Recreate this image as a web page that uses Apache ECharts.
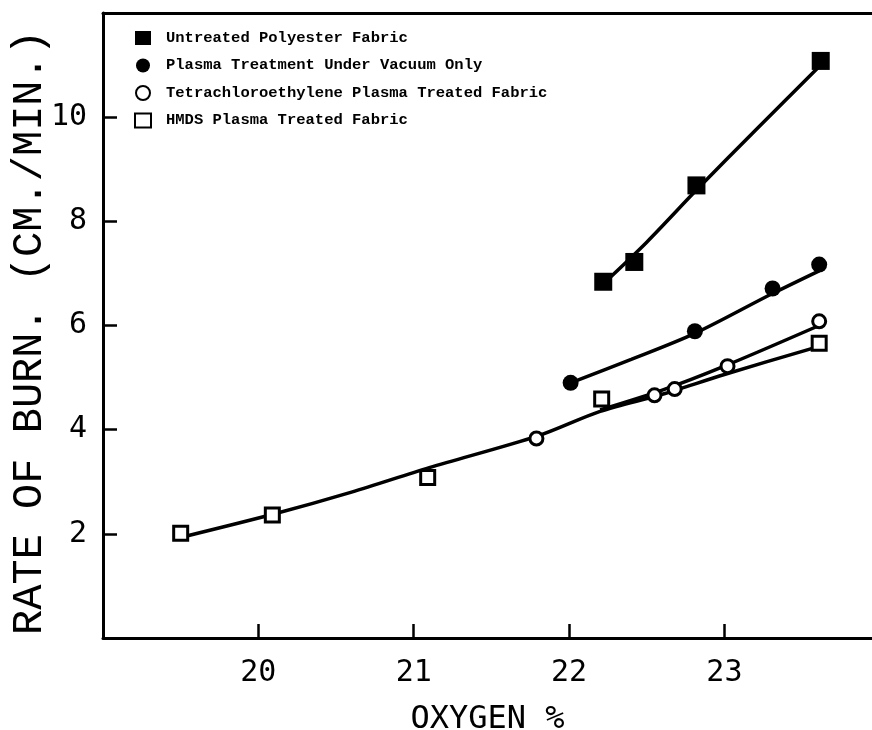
<!DOCTYPE html>
<html>
<head>
<meta charset="utf-8">
<script src="https://cdn.jsdelivr.net/npm/echarts@6/dist/echarts.min.js"></script>
<style>
  html, body { margin: 0; padding: 0; background: #fff; }
  #main { width: 872px; height: 730px; }
</style>
</head>
<body>
<div id="main"></div>
<script>
// measured points (oxygen %, rate of burn cm/min)
const untreatedX = [22.22, 22.42, 22.82, 23.62];
const untreatedY = [6.84, 7.22, 8.69, 11.08];
const vacuumX = [22.01, 22.81, 23.31, 23.61];
const vacuumY = [4.90, 5.89, 6.71, 7.17];
const tetraX = [21.79, 22.55, 22.68, 23.02, 23.61];
const tetraY = [3.83, 4.66, 4.78, 5.22, 6.08];
const hmdsX = [19.5, 20.09, 21.09, 22.21, 23.61];
const hmdsY = [2.01, 2.36, 3.08, 4.59, 5.66];

// hand-drawn fit curves
const untreatedFitX = [22.22, 22.5, 22.82, 23.2, 23.62];
const untreatedFitY = [6.8, 7.6, 8.6, 9.75, 11.0];
const vacuumFitX = [22.01, 22.4, 22.81, 23.3, 23.61];
const vacuumFitY = [4.9, 5.35, 5.85, 6.6, 7.05];
const tetraFitX = [22.2, 22.6, 23.0, 23.61];
const tetraFitY = [4.38, 4.76, 5.22, 6.0];
const hmdsFitX = [19.5, 20.1, 20.6, 21.1, 21.8, 22.2, 22.6, 23.0, 23.61];
const hmdsFitY = [1.93, 2.38, 2.8, 3.27, 3.88, 4.35, 4.68, 5.06, 5.6];

const xTicks = [20, 21, 22, 23];
const yTicks = [2, 4, 6, 8, 10];

const names = [
  "Untreated Polyester Fabric",
  "Plasma Treatment Under Vacuum Only",
  "Tetrachloroethylene Plasma Treated Fabric",
  "HMDS Plasma Treated Fabric"
];

function pairs(xs, ys) {
  return xs.map((x, i) => [x, ys[i]]);
}

function fitLine(xs, ys) {
  return {
    type: "line",
    data: pairs(xs, ys),
    showSymbol: false,
    smooth: 0.3,
    silent: true,
    lineStyle: { color: "#000", width: 3.5 },
    z: 2
  };
}

var chartDom = document.getElementById("main");
var myChart = echarts.init(chartDom);

var option = {
  animation: false,
  backgroundColor: "#fff",
  grid: { left: 103, right: 0, top: 13, bottom: 92, outerBoundsMode: "none", containLabel: false },
  legend: {
    data: names,
    orient: "vertical",
    left: 129,
    top: 25,
    itemWidth: 16,
    itemHeight: 14,
    itemGap: 11.5,
    textStyle: {
      fontFamily: "Liberation Mono",
      fontWeight: "bold",
      fontSize: 15.5,
      color: "#000",
      lineHeight: 14,
      padding: [0, 0, 0, 10]
    },
    selectedMode: false
  },
  xAxis: [
    {
      type: "value",
      min: 19,
      max: 23.95,
      interval: 1,
      name: "OXYGEN %",
      nameLocation: "middle",
      nameGap: 66,
      nameMoveOverlap: false,
      nameTextStyle: { fontFamily: "DejaVu Sans Mono", fontSize: 32, color: "#000" },
      axisLine: { onZero: false, lineStyle: { color: "#000", width: 3 } },
      axisTick: {
        inside: true,
        length: 14,
        customValues: xTicks,
        lineStyle: { color: "#000", width: 2.5 }
      },
      axisLabel: {
        margin: 20,
        customValues: xTicks,
        fontFamily: "DejaVu Sans Mono",
        fontSize: 30,
        color: "#000"
      },
      splitLine: { show: false }
    },
    {
      type: "value",
      position: "top",
      min: 19,
      max: 23.95,
      axisLine: { onZero: false, lineStyle: { color: "#000", width: 3 } },
      axisTick: { show: false },
      axisLabel: { show: false },
      splitLine: { show: false }
    }
  ],
  yAxis: {
    type: "value",
    min: 0,
    max: 12,
    interval: 2,
    name: "RATE OF BURN. (CM./MIN.)",
    nameLocation: "middle",
    nameGap: 52,
    nameMoveOverlap: false,
    nameTextStyle: {
      fontFamily: "Liberation Mono",
      fontSize: 42,
      color: "#000",
      padding: [0, 14, 0, 0]
    },
    axisLine: { onZero: false, lineStyle: { color: "#000", width: 3 } },
    axisTick: {
      inside: true,
      length: 14,
      customValues: yTicks,
      lineStyle: { color: "#000", width: 2.5 }
    },
    axisLabel: {
      margin: 16,
      customValues: yTicks,
      fontFamily: "DejaVu Sans Mono",
      fontSize: 30,
      color: "#000"
    },
    splitLine: { show: false }
  },
  series: [
    fitLine(untreatedFitX, untreatedFitY),
    fitLine(vacuumFitX, vacuumFitY),
    fitLine(tetraFitX, tetraFitY),
    fitLine(hmdsFitX, hmdsFitY),
    {
      name: names[0],
      type: "scatter",
      symbol: "rect",
      symbolSize: 18,
      data: pairs(untreatedX, untreatedY),
      itemStyle: { color: "#000", opacity: 1 },
      z: 3
    },
    {
      name: names[1],
      type: "scatter",
      symbol: "circle",
      symbolSize: 16,
      data: pairs(vacuumX, vacuumY),
      itemStyle: { color: "#000", opacity: 1 },
      z: 3
    },
    {
      name: names[2],
      type: "scatter",
      symbol: "circle",
      symbolSize: 13,
      data: pairs(tetraX, tetraY),
      itemStyle: { color: "#fff", borderColor: "#000", borderWidth: 3, opacity: 1 },
      z: 4
    },
    {
      name: names[3],
      type: "scatter",
      symbol: "rect",
      symbolSize: 14,
      data: pairs(hmdsX, hmdsY),
      itemStyle: { color: "#fff", borderColor: "#000", borderWidth: 3, opacity: 1 },
      z: 4
    }
  ]
};

option && myChart.setOption(option);
</script>
</body>
</html>
